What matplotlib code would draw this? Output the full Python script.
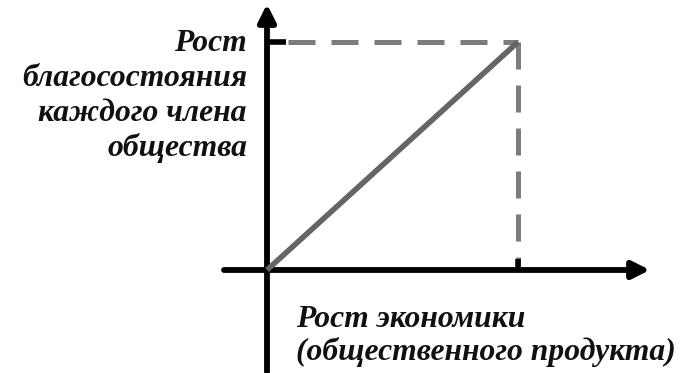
import matplotlib.pyplot as plt

# Схема: рост экономики -> рост благосостояния
growth_x = [0.0, 1.0]      # рост экономики
welfare_y = [0.0, 1.0]     # рост благосостояния
y_label_lines = ["Рост", "благосостояния", "каждого члена", "общества"]
x_label_lines = ["Рост экономики", "(общественного продукта)"]

fig = plt.figure(figsize=(6.88, 3.73), dpi=100)
ax = fig.add_axes([0, 0, 1, 1])
# пиксели -> единицы: начало в (267, 270), точка (1,1) в (518, 42)
x0, y0 = 267, 270
sx, sy = 251.0, 228.0
ax.set_xlim(-x0 / sx, (688 - x0) / sx)
ax.set_ylim(-(373 - y0) / sy, y0 / sy)
ax.axis('off')


def px(x, y):
    # пиксельные координаты картинки -> координаты данных
    return (x - x0) / sx, (y0 - y) / sy


# Оси со стрелками
arrow = dict(arrowstyle='-|>', lw=4.2, color='black', mutation_scale=26,
             shrinkA=0, shrinkB=0)
ax.annotate('', xy=px(650, y0), xytext=px(224, y0), arrowprops=arrow)
ax.annotate('', xy=(0, px(0, 4)[1]), xytext=(0, px(0, 372)[1]), arrowprops=arrow)

# Пунктирные проекции
gray = '#7c7c7c'
dash = dict(color=gray, lw=3.6, dashes=(5.4, 3.2), solid_capstyle='butt', zorder=2)
ax.plot([px(288, 0)[0], growth_x[1]], [welfare_y[1], welfare_y[1]], **dash)
ax.plot([growth_x[1], growth_x[1]], [welfare_y[1], 0], **dash)

# Засечки на осях
ax.plot([0, px(286, 0)[0]], [welfare_y[1], welfare_y[1]], color='black', lw=4,
        solid_capstyle='butt', zorder=3)
ax.plot([growth_x[1], growth_x[1]], [0, px(0, 259)[1]], color='black', lw=4,
        solid_capstyle='butt', zorder=3)

# Основная линия
ax.plot(growth_x, welfare_y, color='#656565', lw=4, solid_capstyle='butt',
        zorder=4)

font = dict(family='Liberation Serif', weight='bold', style='italic',
            fontsize=22.8, color='#111111', va='baseline')
for i, line in enumerate(y_label_lines):
    ax.text(*px(247, 51 + 35 * i), line, ha='right', **font)
for i, line in enumerate(x_label_lines):
    ax.text(*px(296, 327 + 33 * i), line, ha='left', **font)

fig.savefig('out.png', dpi=100)
